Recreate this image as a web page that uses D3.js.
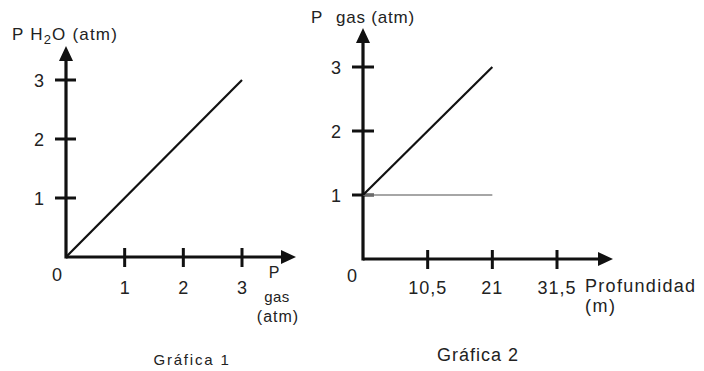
<!DOCTYPE html>
<html>
<head>
<meta charset="utf-8">
<script src="https://cdn.jsdelivr.net/npm/d3@7"></script>
<style>
  body { margin: 0; background: #fff; }
  text { font-family: "Liberation Sans", Arial, sans-serif; fill: #222; }
</style>
</head>
<body>
<div id="chart"></div>
<script>
const width = 704;
const height = 371;

// Gráfica 1 data: P H2O vs P gas
const g1Ticks = [1, 2, 3];
const g1Line = [{x: 0, y: 0}, {x: 3, y: 3}];

// Gráfica 2 data: P gas vs profundidad
const g2YTicks = [1, 2, 3];
const g2XTicks = [10.5, 21, 31.5];
const g2XLabels = ["10,5", "21", "31,5"];
const g2Line = [{x: 0, y: 1}, {x: 21, y: 3}];
const g2Base = [{x: 0, y: 1}, {x: 21, y: 1}];

const svg = d3.select("#chart")
  .append("svg")
  .attr("width", width)
  .attr("height", height);

// arrow head as a filled triangle, dir = "right" or "up"
function arrow(g, x, y, dir) {
  let pts;
  if (dir === "right") pts = [[x, y], [x - 15, y - 7], [x - 15, y + 7]];
  else pts = [[x, y], [x - 7, y + 15], [x + 7, y + 15]];
  g.append("path").attr("d", d3.line()(pts) + "Z").attr("fill", "#111");
}

// ---------- GRÁFICA 1 ----------
const x1 = d3.scaleLinear().domain([0, 3]).range([66, 242]);
const y1 = d3.scaleLinear().domain([0, 3]).range([257, 80]);
const g1 = svg.append("g");

// axes
g1.append("line").attr("x1", x1(0)).attr("y1", y1(0)).attr("x2", 283).attr("y2", y1(0))
  .attr("stroke", "#111").attr("stroke-width", 3.2);
g1.append("line").attr("x1", x1(0)).attr("y1", y1(0) + 1.5).attr("x2", x1(0)).attr("y2", 60)
  .attr("stroke", "#111").attr("stroke-width", 3.2);
arrow(g1, 296, y1(0), "right");
arrow(g1, x1(0), 46, "up");

// ticks
g1.selectAll(".ytick").data(g1Ticks).enter().append("line")
  .attr("x1", x1(0) - 11).attr("x2", x1(0) + 10)
  .attr("y1", d => y1(d)).attr("y2", d => y1(d))
  .attr("stroke", "#111").attr("stroke-width", 3);
g1.selectAll(".xtick").data(g1Ticks).enter().append("line")
  .attr("x1", d => x1(d)).attr("x2", d => x1(d))
  .attr("y1", y1(0) - 9).attr("y2", y1(0) + 10)
  .attr("stroke", "#111").attr("stroke-width", 3);

g1.selectAll(".ylab").data(g1Ticks).enter().append("text")
  .attr("x", 44).attr("y", d => y1(d) + 6.5)
  .attr("text-anchor", "end").attr("font-size", 18).text(d => d);
g1.selectAll(".xlab").data(g1Ticks).enter().append("text")
  .attr("x", d => x1(d)).attr("y", 294)
  .attr("text-anchor", "middle").attr("font-size", 18).text(d => d);
g1.append("text").attr("x", 57).attr("y", 281).attr("text-anchor", "middle")
  .attr("font-size", 18).text("0");

// data line
g1.append("path").datum(g1Line)
  .attr("d", d3.line().x(d => x1(d.x)).y(d => y1(d.y)))
  .attr("stroke", "#111").attr("stroke-width", 2.2).attr("fill", "none");

// axis titles
const t1 = g1.append("text").attr("x", 12).attr("y", 40).attr("font-size", 17)
  .attr("letter-spacing", 1.2);
t1.append("tspan").text("P H");
t1.append("tspan").attr("dy", 4).attr("font-size", 13).text("2");
t1.append("tspan").attr("dy", -4).text("O (atm)");

g1.append("text").attr("x", 274).attr("y", 278).attr("text-anchor", "middle")
  .attr("font-size", 16).text("P");
g1.append("text").attr("x", 277).attr("y", 302).attr("text-anchor", "middle")
  .attr("font-size", 15).attr("letter-spacing", 0.5).text("gas");
g1.append("text").attr("x", 278).attr("y", 322).attr("text-anchor", "middle")
  .attr("font-size", 16).attr("letter-spacing", 1).text("(atm)");

g1.append("text").attr("x", 192).attr("y", 365).attr("text-anchor", "middle")
  .attr("font-size", 15).attr("letter-spacing", 1.8).text("Gráfica 1");

// ---------- GRÁFICA 2 ----------
const x2 = d3.scaleLinear().domain([0, 31.5]).range([363, 557]);
const y2 = d3.scaleLinear().domain([0, 3]).range([259, 67]);
const g2 = svg.append("g");

g2.append("line").attr("x1", x2(0)).attr("y1", y2(0)).attr("x2", 600).attr("y2", y2(0))
  .attr("stroke", "#111").attr("stroke-width", 3.2);
g2.append("line").attr("x1", x2(0)).attr("y1", y2(0) + 1.5).attr("x2", x2(0)).attr("y2", 42)
  .attr("stroke", "#111").attr("stroke-width", 3.2);
arrow(g2, 613, y2(0), "right");
arrow(g2, x2(0), 28, "up");

g2.selectAll(".ytick").data(g2YTicks).enter().append("line")
  .attr("x1", x2(0) - 11).attr("x2", x2(0) + 11)
  .attr("y1", d => y2(d)).attr("y2", d => y2(d))
  .attr("stroke", "#111").attr("stroke-width", 3);
g2.selectAll(".xtick").data(g2XTicks).enter().append("line")
  .attr("x1", d => x2(d)).attr("x2", d => x2(d))
  .attr("y1", y2(0) - 9).attr("y2", y2(0) + 10)
  .attr("stroke", "#111").attr("stroke-width", 3);

g2.selectAll(".ylab").data(g2YTicks).enter().append("text")
  .attr("x", 341).attr("y", d => y2(d) + 6.5)
  .attr("text-anchor", "end").attr("font-size", 18).text(d => d);
g2.selectAll(".xlab").data(g2XTicks).enter().append("text")
  .attr("x", d => x2(d)).attr("y", 294)
  .attr("text-anchor", "middle").attr("font-size", 18).attr("letter-spacing", 1)
  .text((d, i) => g2XLabels[i]);
g2.append("text").attr("x", 352).attr("y", 282).attr("text-anchor", "middle")
  .attr("font-size", 18).text("0");

g2.append("path").datum(g2Base)
  .attr("d", d3.line().x(d => x2(d.x)).y(d => y2(d.y)))
  .attr("stroke", "#888").attr("stroke-width", 1.5).attr("fill", "none");
g2.append("path").datum(g2Line)
  .attr("d", d3.line().x(d => x2(d.x)).y(d => y2(d.y)))
  .attr("stroke", "#111").attr("stroke-width", 2.2).attr("fill", "none");

g2.append("text").attr("x", 311).attr("y", 23).attr("font-size", 17).text("P");
g2.append("text").attr("x", 336).attr("y", 23).attr("font-size", 17)
  .attr("letter-spacing", 0.8).text("gas (atm)");

g2.append("text").attr("x", 585).attr("y", 292).attr("font-size", 18)
  .attr("letter-spacing", 1.3).text("Profundidad");
g2.append("text").attr("x", 585).attr("y", 312).attr("font-size", 18)
  .attr("letter-spacing", 1.5).text("(m)");

g2.append("text").attr("x", 478).attr("y", 361).attr("text-anchor", "middle")
  .attr("font-size", 18).attr("letter-spacing", 1).text("Gráfica 2");
</script>
</body>
</html>
